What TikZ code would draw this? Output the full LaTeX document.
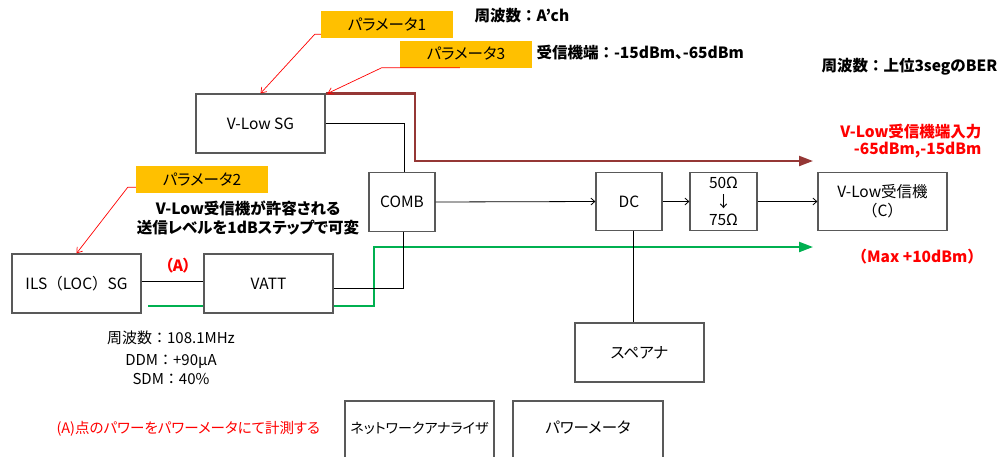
\documentclass[tikz,border=0pt]{standalone}
\usepackage{fontspec}
\setmainfont{Noto Sans CJK JP}[RawFeature=+palt]
\newfontfamily\fwfont{Noto Sans CJK JP}
\newcommand{\fw}[1]{{\fwfont #1}}
\usepackage{tikz}
\usetikzlibrary{arrows.meta,calc}
\definecolor{ORANGE}{HTML}{FFC000}
\definecolor{REDC}{HTML}{FF0000}
\definecolor{GREEN}{HTML}{00B050}
\definecolor{BROWN}{HTML}{953735}
\definecolor{EDGE}{HTML}{595959}
\begin{document}
\begin{tikzpicture}[x=1pt,y=-1pt,font=\fontsize{15.5}{18}\selectfont]
\tikzset{box/.style={draw=EDGE,line width=1.2pt,fill=white,inner sep=1pt},
 tag/.style={fill=ORANGE,minimum width=132,minimum height=27,inner sep=0pt},
 ln/.style={black,line width=0.8pt},
 lnarr/.style={ln,-{Straight Barb[length=4pt,width=7pt]}},
 redln/.style={REDC,line width=0.7pt,-{Straight Barb[length=5pt,width=7pt]}},
 brn/.style={BROWN,line width=2.2pt,-{Triangle[length=14pt,width=10pt]}},
 grnln/.style={GREEN,line width=2.2pt},
 grn/.style={grnln,-{Triangle[length=14pt,width=10pt]}},
 bold/.style={font=\fontsize{15.5}{19}\selectfont\bfseries}}
\useasboundingbox (0,0) rectangle (1005,456);
\clip (0,0) rectangle (1005,456);
% boxes
\node[box,minimum width=129,minimum height=59] (vsg) at (260.5,123.5) {V-Low SG};
\node[box,minimum width=66,minimum height=59] (comb) at (402,202) {COMB};
\node[box,minimum width=66,minimum height=58] (dc) at (629,201.5) {DC};
\node[box,minimum width=67,minimum height=58,align=center,font=\fontsize{15.5}{18.5}\selectfont] (imp) at (723.5,201.5) {50Ω\\↓\\75Ω};
\node[box,minimum width=129,minimum height=58,align=center,font=\fontsize{15.5}{19}\selectfont] (rx) at (882.5,201.5) {V-Low受信機\\\fw{（C）}};
\node[box,minimum width=129,minimum height=59] (ils) at (76.5,283.5) {ILS\fw{（}LOC\fw{）}SG};
\node[box,minimum width=129,minimum height=59] (vatt) at (268.5,283.5) {VATT};
\node[box,minimum width=129,minimum height=59] (spa) at (639.5,352.5) {スペアナ};
\node[box,minimum width=149,minimum height=60,font=\fontsize{14}{17}\selectfont] (na) at (419.5,431) {\raisebox{7pt}{ネットワークアナライザ}};
\node[box,minimum width=150,minimum height=60] (pm) at (588,431) {\raisebox{7pt}{パワーメータ}};
% parameter tags
\node[tag] (p1) at (387,24.5) {パラメータ1};
\node[tag] (p3) at (466,54) {パラメータ3};
\node[tag] (p2) at (202,179.5) {パラメータ2};
% texts
\node[bold,anchor=west] (fa) at (471,16) {周波数\fw{：}A'ch};
\node[bold,anchor=west] (lvl) at (533,53) {受信機端\fw{：}-15dBm、-65dBm};
\node[bold,anchor=west] (ber) at (818,67) {周波数\fw{：}上位3segのBER};
\node[bold,REDC,align=right,anchor=east,font=\fontsize{15.5}{17}\selectfont\bfseries] (rxin) at (985,141.5) {V-Low受信機端入力\\-65dBm,-15dBm};
\node[bold,REDC,anchor=west] (maxp) at (848,257) {\fw{（}Max +10dBm\fw{）}};
\node[bold,REDC] (pa) at (178,266) {（A）};
\node[bold,align=center] (var) at (248,218.5) {V-Low受信機が許容される\\送信レベルを1dBステップで可変};
\node[align=center,font=\fontsize{15}{19}\selectfont] (ilsp) at (171,357.5) {周波数\fw{：}108.1MHz\\[3pt]DDM\fw{：}+90μA\\SDM\fw{：}40\%};
\node[REDC,anchor=west,font=\fontsize{14.5}{17}\selectfont] (meas) at (53,429) {(A)点のパワーをパワーメータにて計測する};
% connectors
\coordinate (brnend) at (813,161);
\coordinate (gstart) at (148,306);
\coordinate (gend) at (813,247);
\draw[brn] (vsg.north east) -- ++(89,0) |- (brnend);
\draw[grnln] (gstart) -- (vatt.west |- gstart);
\draw[grn] (vatt.east |- gstart) -- ++(40,0) |- (gend);
\draw[ln] (vsg.east) -| ([xshift=2pt]comb.north);
\draw[ln] ([yshift=2.5pt]ils.east) -- ([yshift=2.5pt]vatt.west);
\draw[ln] ([yshift=-4.5pt]vatt.east) -| ([xshift=1pt]comb.south);
\draw[lnarr] (comb.east) -- (dc.west);
\draw[lnarr] (dc.east) -- (imp.west);
\draw[lnarr] (imp.east) -- (rx.west);
\draw[ln] ([xshift=4pt]dc.south) -- ([xshift=4pt]dc.south |- spa.north);
\draw[redln] ($(p1.south west)+(0,-4)$) -- ++(-6,0) -- (vsg.north);
\draw[redln] ($(p3.south west)+(60,0)$) -- ++(-78,0) -- ([xshift=2pt]vsg.north east);
\draw[redln] ($(p2.south west)+(0,-6)$) -- ++(-8,0) -- (ils.north);
\end{tikzpicture}
\end{document}
